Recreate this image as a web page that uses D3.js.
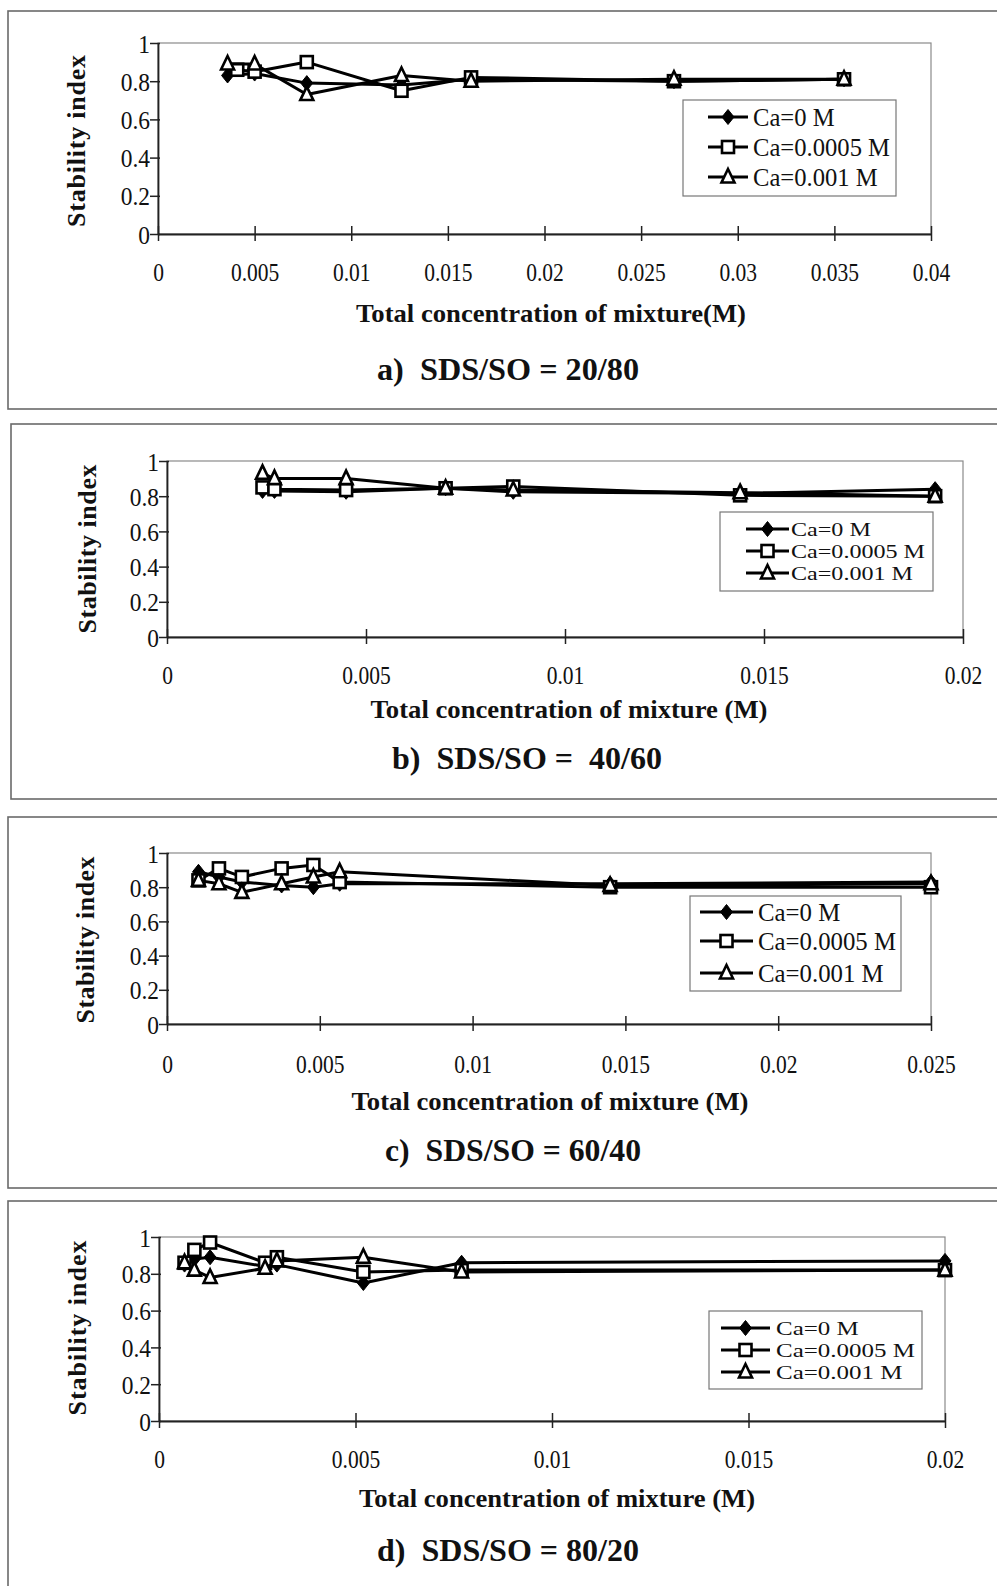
<!DOCTYPE html>
<html><head><meta charset="utf-8">
<script src="https://cdn.jsdelivr.net/npm/d3@7"></script>
<style>body{margin:0;background:#fff}svg{display:block}</style>
</head><body>
<svg id="chart" width="997" height="1586"></svg>
<script>
// ---------- DATA ----------
const seriesNames = ["Ca=0 M", "Ca=0.0005 M", "Ca=0.001 M"];
const yTickValues = [0, 0.2, 0.4, 0.6, 0.8, 1];
const yTickLabels = ["0", "0.2", "0.4", "0.6", "0.8", "1"];

// a) SDS/SO = 20/80
const aTicks = [0, 0.005, 0.01, 0.015, 0.02, 0.025, 0.03, 0.035, 0.04];
const aTickLabels = ["0", "0.005", "0.01", "0.015", "0.02", "0.025", "0.03", "0.035", "0.04"];
const aConc = [0.0036, 0.005, 0.0077, 0.0126, 0.0162, 0.0267, 0.0355];
const aConcCa0005 = [0.0041, 0.005, 0.0077, 0.0126, 0.0162, 0.0267, 0.0355];
const aCa0 = [0.83, 0.84, 0.79, 0.78, 0.81, 0.80, 0.81];
const aCa0005 = [0.86, 0.85, 0.90, 0.75, 0.82, 0.80, 0.81];
const aCa001 = [0.89, 0.89, 0.73, 0.83, 0.80, 0.81, 0.81];

// b) SDS/SO = 40/60
const bTicks = [0, 0.005, 0.01, 0.015, 0.02];
const bTickLabels = ["0", "0.005", "0.01", "0.015", "0.02"];
const bConc = [0.0024, 0.0027, 0.0045, 0.0070, 0.0087, 0.0144, 0.0193];
const bCa0 = [0.83, 0.83, 0.825, 0.845, 0.825, 0.815, 0.84];
const bCa0005 = [0.85, 0.84, 0.835, 0.845, 0.855, 0.805, 0.80];
const bCa001 = [0.93, 0.90, 0.90, 0.845, 0.835, 0.82, 0.80];

// c) SDS/SO = 60/40
const cTicks = [0, 0.005, 0.01, 0.015, 0.02, 0.025];
const cTickLabels = ["0", "0.005", "0.01", "0.015", "0.02", "0.025"];
const cConc = [0.00103, 0.0017, 0.00245, 0.00375, 0.00479, 0.00565, 0.0145, 0.025];
const cCa0 = [0.89, 0.86, 0.83, 0.81, 0.80, 0.82, 0.82, 0.83];
const cCa0005 = [0.84, 0.91, 0.86, 0.91, 0.93, 0.83, 0.80, 0.80];
const cCa001 = [0.84, 0.82, 0.77, 0.82, 0.86, 0.89, 0.81, 0.82];

// d) SDS/SO = 80/20
const dTicks = [0, 0.005, 0.01, 0.015, 0.02];
const dTickLabels = ["0", "0.005", "0.01", "0.015", "0.02"];
const dConc = [0.00065, 0.0009, 0.0013, 0.0027, 0.0030, 0.0052, 0.0077, 0.02];
const dCa0 = [0.85, 0.88, 0.89, 0.84, 0.85, 0.75, 0.86, 0.87];
const dCa0005 = [0.86, 0.93, 0.97, 0.86, 0.89, 0.81, 0.82, 0.82];
const dCa001 = [0.86, 0.82, 0.78, 0.83, 0.87, 0.89, 0.81, 0.82];

const xTitles = ["Total concentration of mixture(M)", "Total concentration of mixture (M)",
                 "Total concentration of mixture (M)", "Total concentration of mixture (M)"];
const subTitles = ["a)  SDS/SO = 20/80", "b)  SDS/SO =  40/60", "c)  SDS/SO = 60/40", "d)  SDS/SO = 80/20"];
const yTitle = "Stability index";

// ---------- LAYOUT ----------
const panels = [
  {frame:[8,11,998,409], plot:[158,43,931,234], xmax:0.04, ticks:aTicks, tickLabels:aTickLabels,
   series:[[aConc,aCa0],[aConcCa0005,aCa0005],[aConc,aCa001]],
   tickY:272, xTitleY:313, xTitleW:390, xTitleCx:551, subY:369, subW:262, subCx:508,
   yTitleX:76, yTitleCy:141, yTitleW:172,
   legend:{x:683,y:100,w:213,h:96,rows:[117,147,177],lx0:708,lx1:748,tx:753,tw:137,fs:25}},
  {frame:[11,424,998,799], plot:[167,461,963,637], xmax:0.02, ticks:bTicks, tickLabels:bTickLabels,
   series:[[bConc,bCa0],[bConc,bCa0005],[bConc,bCa001]],
   tickY:675, xTitleY:709, xTitleW:397, xTitleCx:569, subY:758, subW:270, subCx:527,
   yTitleX:87, yTitleCy:549, yTitleW:169,
   legend:{x:720,y:512,w:213,h:79,rows:[529,551,573],lx0:746,lx1:789,tx:791,tw:134,fs:19.5}},
  {frame:[8,817,998,1188], plot:[167,853,931,1024], xmax:0.025, ticks:cTicks, tickLabels:cTickLabels,
   series:[[cConc,cCa0],[cConc,cCa0005],[cConc,cCa001]],
   tickY:1064, xTitleY:1101, xTitleW:397, xTitleCx:550, subY:1150, subW:256, subCx:513,
   yTitleX:85, yTitleCy:940, yTitleW:167,
   legend:{x:690,y:896,w:211,h:95,rows:[912,941,973],lx0:700,lx1:753,tx:758,tw:138,fs:25}},
  {frame:[8,1201,998,1600], plot:[159,1237,945,1421], xmax:0.02, ticks:dTicks, tickLabels:dTickLabels,
   series:[[dConc,dCa0],[dConc,dCa0005],[dConc,dCa001]],
   tickY:1459, xTitleY:1498, xTitleW:396, xTitleCx:557, subY:1550, subW:262, subCx:508,
   yTitleX:77, yTitleCy:1328, yTitleW:175,
   legend:{x:709,y:1311,w:213,h:78,rows:[1328,1350,1372],lx0:721,lx1:770,tx:776,tw:139,fs:19.5}}
];

const FONT = "'Liberation Serif','Times New Roman',serif";
const svg = d3.select("#chart");

function condense(sel, factor) {
  sel.each(function () {
    const w = this.getComputedTextLength();
    d3.select(this).attr("textLength", w * factor).attr("lengthAdjust", "spacingAndGlyphs");
  });
}

function marker(g, type, x, y) {
  if (type === 0) {
    g.append("path").attr("d", `M${x},${y-7.5}L${x+6},${y}L${x},${y+7.5}L${x-6},${y}Z`)
      .attr("fill", "#000").attr("stroke", "#000").attr("stroke-width", 1);
  } else if (type === 1) {
    g.append("rect").attr("x", x-6).attr("y", y-6).attr("width", 12).attr("height", 12)
      .attr("fill", "#fff").attr("stroke", "#000").attr("stroke-width", 2.6);
  } else {
    g.append("path").attr("d", `M${x},${y-8}L${x+6.5},${y+5.5}L${x-6.5},${y+5.5}Z`)
      .attr("fill", "#fff").attr("stroke", "#000").attr("stroke-width", 2.6).attr("stroke-linejoin","miter");
  }
}

panels.forEach((p, i) => {
  const g = svg.append("g");
  const [fx0, fy0, fx1, fy1] = p.frame;
  g.append("rect").attr("x", fx0).attr("y", fy0).attr("width", fx1 - fx0).attr("height", fy1 - fy0)
    .attr("fill", "none").attr("stroke", "#6a6a6a").attr("stroke-width", 1.6);

  const [px0, py0, px1, py1] = p.plot;
  const x = d3.scaleLinear().domain([0, p.xmax]).range([px0, px1]);
  const y = d3.scaleLinear().domain([0, 1]).range([py1, py0]);

  g.append("rect").attr("x", px0).attr("y", py0).attr("width", px1 - px0).attr("height", py1 - py0)
    .attr("fill", "none").attr("stroke", "#8a8a8a").attr("stroke-width", 1.2);

  const xAxis = d3.axisBottom(x).tickValues(p.ticks).tickFormat((d, k) => p.tickLabels[k])
    .tickSizeInner(6).tickSizeOuter(0);
  const xg = g.append("g").attr("transform", `translate(0,${py1})`).call(xAxis);
  xg.select(".domain").attr("stroke", "#222").attr("stroke-width", 1.8);
  xg.selectAll(".tick line").attr("y1", -8).attr("y2", 7).attr("stroke", "#222").attr("stroke-width", 1.5);
  const xt = xg.selectAll(".tick text").attr("y", p.tickY - py1).attr("dy", "0.35em")
    .attr("font-family", FONT).attr("font-size", 25).attr("fill", "#111");
  condense(xt, 0.86);

  const yAxis = d3.axisLeft(y).tickValues(yTickValues).tickFormat((d, k) => yTickLabels[k])
    .tickSizeInner(7).tickSizeOuter(0);
  const yg = g.append("g").attr("transform", `translate(${px0},0)`).call(yAxis);
  yg.select(".domain").attr("stroke", "#222").attr("stroke-width", 1.8);
  yg.selectAll(".tick line").attr("x1", -8).attr("x2", 2).attr("stroke", "#222").attr("stroke-width", 1.5);
  const yt = yg.selectAll(".tick text").attr("x", -8).attr("dy", "0.35em")
    .attr("font-family", FONT).attr("font-size", 26).attr("fill", "#111");
  condense(yt, 0.9);

  p.series.forEach((s, k) => {
    const pts = s[0].map((cx, j) => [cx, s[1][j]]);
    g.append("path").datum(pts)
      .attr("d", d3.line().x(d => x(d[0])).y(d => y(d[1])))
      .attr("fill", "none").attr("stroke", "#000").attr("stroke-width", 3).attr("stroke-linejoin", "round");
    const mg = g.append("g");
    pts.forEach(d => marker(mg, k, x(d[0]), y(d[1])));
  });

  // legend
  const L = p.legend;
  g.append("rect").attr("x", L.x).attr("y", L.y).attr("width", L.w).attr("height", L.h)
    .attr("fill", "#fff").attr("stroke", "#777").attr("stroke-width", 1.2);
  const texts = [];
  seriesNames.forEach((name, k) => {
    const ry = L.rows[k];
    g.append("line").attr("x1", L.lx0).attr("x2", L.lx1).attr("y1", ry).attr("y2", ry)
      .attr("stroke", "#000").attr("stroke-width", 3);
    marker(g, k, (L.lx0 + L.lx1) / 2, ry);
    texts.push(g.append("text").attr("x", L.tx).attr("y", ry).attr("dy", "0.35em")
      .attr("font-family", FONT).attr("font-size", L.fs).attr("fill", "#111").text(name));
  });
  const ref = texts[1].node().getComputedTextLength();
  const ratio = L.tw / ref;
  texts.forEach(t => condense(t, ratio));

  g.append("text").attr("x", p.xTitleCx).attr("y", p.xTitleY).attr("dy", "0.35em")
    .attr("text-anchor", "middle").attr("font-family", FONT).attr("font-weight", "bold")
    .attr("font-size", 26).attr("fill", "#111")
    .attr("textLength", p.xTitleW).attr("lengthAdjust", "spacingAndGlyphs").text(xTitles[i]);
  g.append("text").attr("x", p.subCx).attr("y", p.subY).attr("dy", "0.35em")
    .attr("text-anchor", "middle").attr("font-family", FONT).attr("font-weight", "bold")
    .attr("font-size", 32).attr("fill", "#111").attr("xml:space", "preserve").style("white-space", "pre")
    .attr("textLength", p.subW).attr("lengthAdjust", "spacingAndGlyphs").text(subTitles[i]);
  g.append("text").attr("transform", `translate(${p.yTitleX},${p.yTitleCy}) rotate(-90)`)
    .attr("dy", "0.35em").attr("text-anchor", "middle").attr("font-family", FONT)
    .attr("font-weight", "bold").attr("font-size", 26).attr("fill", "#111")
    .attr("textLength", p.yTitleW).attr("lengthAdjust", "spacing").text(yTitle);
});
</script>
</body></html>
